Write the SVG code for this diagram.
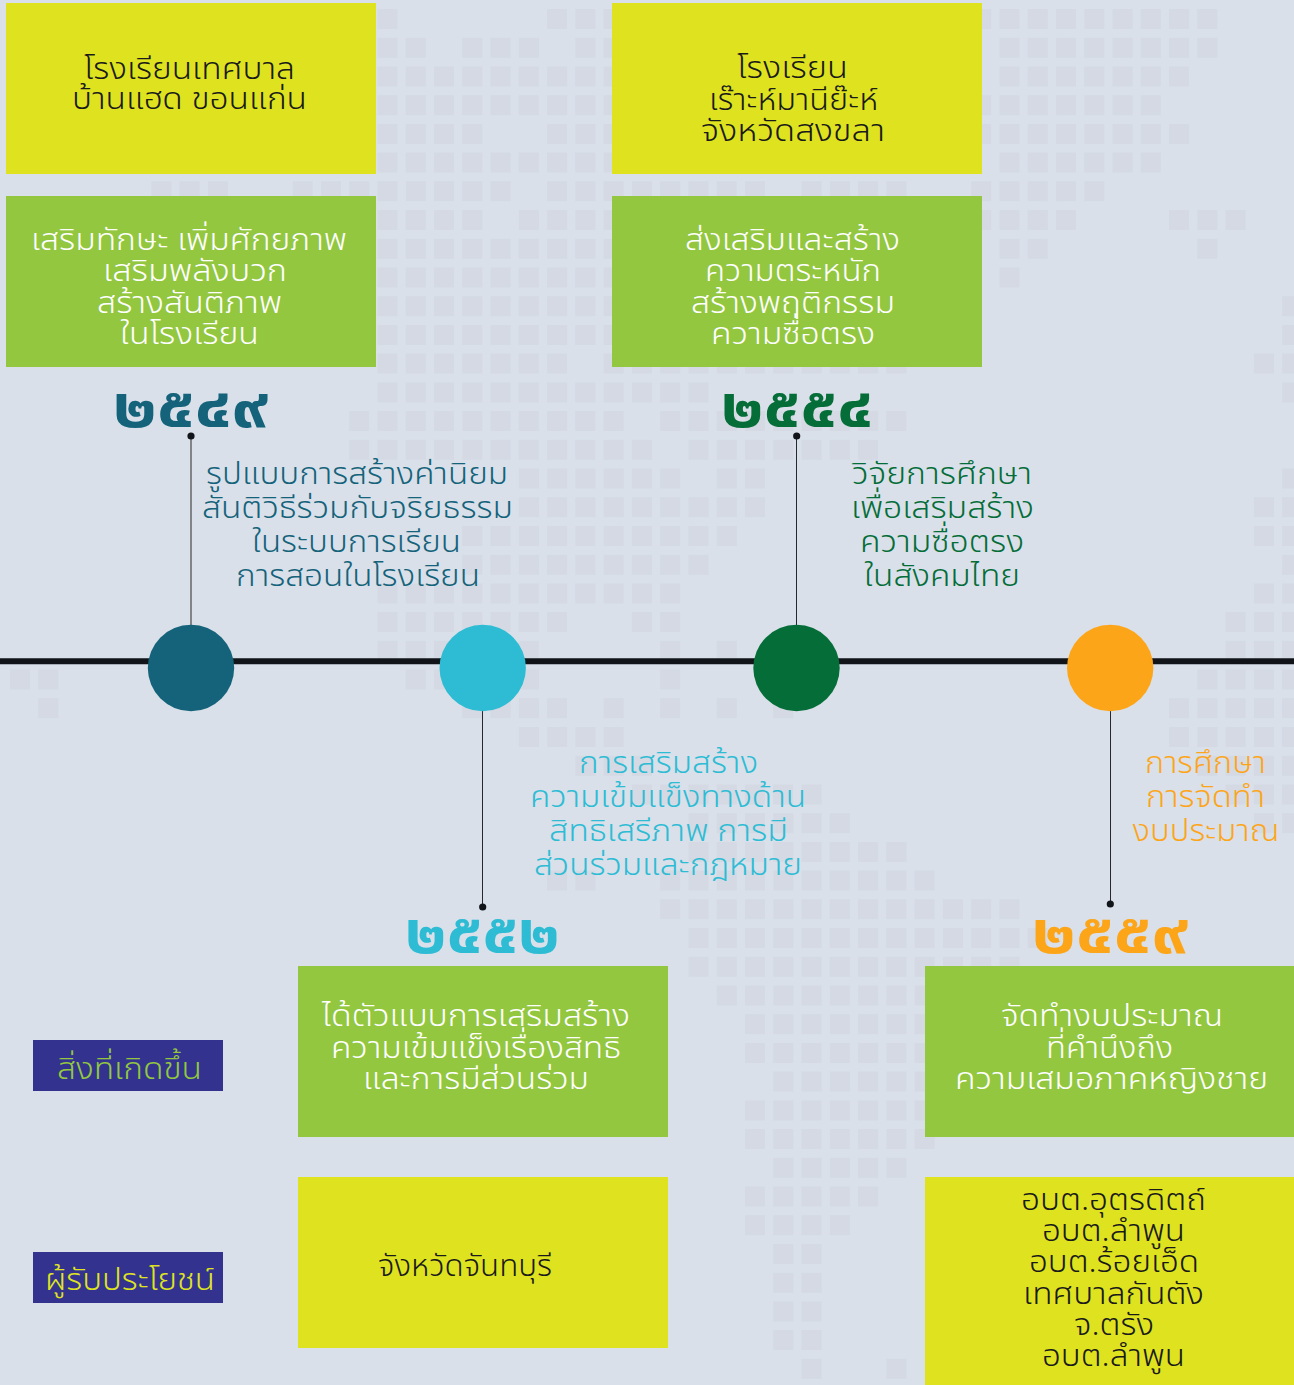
<svg xmlns="http://www.w3.org/2000/svg" width="1294" height="1385" viewBox="0 0 1294 1385">
<style>
.sq{fill:none;stroke:#d4d9e3;stroke-width:20;stroke-dasharray:20 8.27}
text{font-family:"Noto Sans Thai","Noto Sans","DejaVu Sans","Liberation Sans",sans-serif;font-size:31px;font-weight:300;text-anchor:middle}
.d{fill:#1a1a1a}.w{fill:#fff}.t{fill:#15637a}.g{fill:#056d38}.c{fill:#2ebcd4}.o{fill:#fda519}
.y{font-size:56px;font-weight:700}
.ye{fill:#dfe31f}.gr{fill:#92c73f}.bl{fill:#33338f}
.stem{stroke:#26282b;stroke-width:1;fill:none}
</style>
<rect width="1294" height="1385" fill="#d9e0ea"/>
<g id="map" class="sq">
<path d="M377.5 19H397.5M547.1 19H623.7M971.2 19H1217.3"/>
<path d="M377.5 47.7H425.8M462.3 47.7H538.9M575.4 47.7H623.7M999.5 47.7H1217.3"/>
<path d="M377.5 76.4H623.7M999.5 76.4H1189.1"/>
<path d="M377.5 105.2H623.7M971.2 105.2H1160.8"/>
<path d="M377.5 133.9H482.3M547.1 133.9H623.7M971.2 133.9H1189.1"/>
<path d="M377.5 162.6H623.7M999.5 162.6H1160.8"/>
<path d="M151.4 191.3H227.9M292.7 191.3H510.6M547.1 191.3H765M801.6 191.3H906.4M971.2 191.3H1104.3"/>
<path d="M377.5 220H482.3M518.9 220H623.7M971.2 220H1076M1169.1 220H1245.6"/>
<path d="M377.5 248.8H623.7M999.5 248.8H1047.7M1197.3 248.8H1217.3"/>
<path d="M377.5 277.5H623.7M999.5 277.5H1019.5"/>
<path d="M377.5 306.2H623.7M1282.2 306.2H1302.2"/>
<path d="M377.5 334.9H623.7M1282.2 334.9H1302.2"/>
<path d="M377.5 363.6H567.1M603.7 363.6H906.4M1253.9 363.6H1302.2"/>
<path d="M377.5 392.4H708.5M1282.2 392.4H1302.2"/>
<path d="M349.2 421.1H623.7M660.2 421.1H906.4"/>
<path d="M349.2 449.8H651.9M688.5 449.8H878.1"/>
<path d="M518.9 478.5H680.2M716.8 478.5H765M1282.2 478.5H1302.2"/>
<path d="M518.9 507.2H765M1253.9 507.2H1302.2"/>
<path d="M462.3 536H736.8M1253.9 536H1302.2"/>
<path d="M462.3 564.7H708.5M1282.2 564.7H1302.2"/>
<path d="M377.5 593.4H680.2M1253.9 593.4H1302.2"/>
<path d="M377.5 622.1H567.1M631.9 622.1H680.2M1225.6 622.1H1302.2"/>
<path d="M377.5 650.8H538.9M660.2 650.8H680.2M716.8 650.8H736.8M1225.6 650.8H1302.2"/>
<path d="M10 679.6H58.3M405.8 679.6H454.1M518.9 679.6H538.9M660.2 679.6H680.2M1197.3 679.6H1302.2"/>
<path d="M38.3 708.3H58.3M462.3 708.3H567.1M603.7 708.3H623.7M660.2 708.3H680.2M716.8 708.3H736.8M773.3 708.3H793.3M1169.1 708.3H1302.2"/>
<path d="M518.9 737H623.7M1169.1 737H1302.2"/>
<path d="M575.4 765.7H651.9M1197.3 765.7H1302.2"/>
<path d="M631.9 794.4H821.6M1225.6 794.4H1302.2"/>
<path d="M688.5 823.2H849.8M1253.9 823.2H1302.2"/>
<path d="M688.5 851.9H906.4"/>
<path d="M547.1 880.6H595.4M660.2 880.6H934.6"/>
<path d="M660.2 909.3H1019.5"/>
<path d="M688.5 938H1047.7"/>
<path d="M688.5 966.8H1019.5"/>
<path d="M716.8 995.5H934.6"/>
<path d="M745 1024.2H934.6"/>
<path d="M745 1052.9H934.6"/>
<path d="M773.3 1081.6H934.6"/>
<path d="M745 1110.4H934.6"/>
<path d="M745 1139.1H934.6"/>
<path d="M773.3 1167.8H906.4"/>
<path d="M745 1196.5H878.1"/>
<path d="M745 1225.2H849.8"/>
<path d="M773.3 1254H821.6"/>
<path d="M773.3 1282.7H821.6"/>
<path d="M773.3 1311.4H821.6"/>
<path d="M773.3 1340.1H821.6"/>
<path d="M801.6 1368.8H821.6M886.4 1368.8H906.4"/>
</g>
<g id="connectors">
<line x1="0" y1="661.300" x2="1294" y2="661.300" stroke="#111418" stroke-width="6"/>
<path class="stem" d="M796.500 436V625M482.500 711V907M1110.500 711V904"/>
<path d="M191 436V625" stroke="#666" stroke-width="1.500" fill="none"/>
<g fill="#111418"><circle cx="191" cy="436" r="3.600"/><circle cx="796.700" cy="436" r="3.600"/><circle cx="482.700" cy="907" r="3.600"/><circle cx="1110.300" cy="904" r="3.600"/></g>
</g>
<g id="box-school-1"><rect class="ye" x="6" y="3" width="370" height="171"/>
<text class="d" x="189.500" y="79" textLength="211" lengthAdjust="spacingAndGlyphs">โรงเรียนเทศบาล</text>
<text class="d" x="189.500" y="109" textLength="235" lengthAdjust="spacingAndGlyphs">บ้านแฮด ขอนแก่น</text></g>
<g id="box-result-1"><rect class="gr" x="6" y="196" width="370" height="171"/>
<text class="w" x="189" y="250" textLength="316" lengthAdjust="spacingAndGlyphs">เสริมทักษะ เพิ่มศักยภาพ</text>
<text class="w" x="195" y="281" textLength="184" lengthAdjust="spacingAndGlyphs">เสริมพลังบวก</text>
<text class="w" x="189.500" y="313" textLength="185" lengthAdjust="spacingAndGlyphs">สร้างสันติภาพ</text>
<text class="w" x="189.500" y="344" textLength="139" lengthAdjust="spacingAndGlyphs">ในโรงเรียน</text></g>
<g id="box-school-2"><rect class="ye" x="612" y="3" width="370" height="171"/>
<text class="d" x="792.500" y="78" textLength="111" lengthAdjust="spacingAndGlyphs">โรงเรียน</text>
<text class="d" x="793.500" y="110" textLength="169" lengthAdjust="spacingAndGlyphs">เร๊าะห์มานีย๊ะห์</text>
<text class="d" x="793" y="141" textLength="184" lengthAdjust="spacingAndGlyphs">จังหวัดสงขลา</text></g>
<g id="box-result-2"><rect class="gr" x="612" y="196" width="370" height="171"/>
<text class="w" x="792.500" y="250" textLength="215" lengthAdjust="spacingAndGlyphs">ส่งเสริมและสร้าง</text>
<text class="w" x="793" y="281" textLength="176" lengthAdjust="spacingAndGlyphs">ความตระหนัก</text>
<text class="w" x="793" y="313" textLength="204" lengthAdjust="spacingAndGlyphs">สร้างพฤติกรรม</text>
<text class="w" x="793" y="344" textLength="164" lengthAdjust="spacingAndGlyphs">ความซื่อตรง</text></g>
<g id="event-2549">
<text class="t y" x="191" y="427" textLength="156" lengthAdjust="spacingAndGlyphs">๒๕๔๙</text>
<circle cx="191" cy="668" r="43.200" fill="#15637a"/>
<text class="t" x="357" y="484" textLength="302" lengthAdjust="spacingAndGlyphs">รูปแบบการสร้างค่านิยม</text>
<text class="t" x="357.500" y="518" textLength="311" lengthAdjust="spacingAndGlyphs">สันติวิธีร่วมกับจริยธรรม</text>
<text class="t" x="356.500" y="552" textLength="209" lengthAdjust="spacingAndGlyphs">ในระบบการเรียน</text>
<text class="t" x="358" y="586" textLength="244" lengthAdjust="spacingAndGlyphs">การสอนในโรงเรียน</text></g>
<g id="event-2552">
<circle cx="482.700" cy="668" r="43.200" fill="#2ebcd4"/>
<text class="c" x="668.500" y="773" textLength="179" lengthAdjust="spacingAndGlyphs">การเสริมสร้าง</text>
<text class="c" x="668" y="807" textLength="276" lengthAdjust="spacingAndGlyphs">ความเข้มแข็งทางด้าน</text>
<text class="c" x="668.500" y="841" textLength="239" lengthAdjust="spacingAndGlyphs">สิทธิเสรีภาพ การมี</text>
<text class="c" x="668" y="875" textLength="268" lengthAdjust="spacingAndGlyphs">ส่วนร่วมและกฎหมาย</text>
<text class="c y" x="482.500" y="953" textLength="155" lengthAdjust="spacingAndGlyphs">๒๕๕๒</text></g>
<g id="event-2554">
<text class="g y" x="797" y="427" textLength="152" lengthAdjust="spacingAndGlyphs">๒๕๕๔</text>
<circle cx="796.500" cy="668" r="43.200" fill="#056d38"/>
<text class="g" x="942" y="484" textLength="180" lengthAdjust="spacingAndGlyphs">วิจัยการศึกษา</text>
<text class="g" x="942.500" y="518" textLength="183" lengthAdjust="spacingAndGlyphs">เพื่อเสริมสร้าง</text>
<text class="g" x="942" y="552" textLength="164" lengthAdjust="spacingAndGlyphs">ความซื่อตรง</text>
<text class="g" x="942" y="586" textLength="156" lengthAdjust="spacingAndGlyphs">ในสังคมไทย</text></g>
<g id="event-2559">
<circle cx="1110.200" cy="668" r="43.200" fill="#fda519"/>
<text class="o" x="1205.500" y="773" textLength="121" lengthAdjust="spacingAndGlyphs">การศึกษา</text>
<text class="o" x="1205.500" y="807" textLength="119" lengthAdjust="spacingAndGlyphs">การจัดทำ</text>
<text class="o" x="1206" y="841" textLength="147" lengthAdjust="spacingAndGlyphs">งบประมาณ</text>
<text class="o y" x="1110.500" y="953" textLength="157" lengthAdjust="spacingAndGlyphs">๒๕๕๙</text></g>
<g id="label-outcome"><rect class="bl" x="33" y="1040" width="190" height="51"/>
<text class="gr" x="129.500" y="1079" textLength="145" lengthAdjust="spacingAndGlyphs">สิ่งที่เกิดขึ้น</text></g>
<g id="label-beneficiary"><rect class="bl" x="33" y="1252" width="190" height="51"/>
<text class="ye" x="130" y="1290" textLength="170" lengthAdjust="spacingAndGlyphs">ผู้รับประโยชน์</text></g>
<g id="box-result-3"><rect class="gr" x="298" y="966" width="370" height="171"/>
<text class="w" x="476" y="1026" textLength="308" lengthAdjust="spacingAndGlyphs">ได้ตัวแบบการเสริมสร้าง</text>
<text class="w" x="476" y="1058" textLength="290" lengthAdjust="spacingAndGlyphs">ความเข้มแข็งเรื่องสิทธิ</text>
<text class="w" x="476" y="1089" textLength="226" lengthAdjust="spacingAndGlyphs">และการมีส่วนร่วม</text></g>
<g id="box-result-4"><rect class="gr" x="925" y="966" width="369" height="171"/>
<text class="w" x="1112" y="1026" textLength="222" lengthAdjust="spacingAndGlyphs">จัดทำงบประมาณ</text>
<text class="w" x="1109.500" y="1058" textLength="127" lengthAdjust="spacingAndGlyphs">ที่คำนึงถึง</text>
<text class="w" x="1111.500" y="1089" textLength="313" lengthAdjust="spacingAndGlyphs">ความเสมอภาคหญิงชาย</text></g>
<g id="box-beneficiary-3"><rect class="ye" x="298" y="1177" width="370" height="171"/>
<text class="d" x="465" y="1276" textLength="174" lengthAdjust="spacingAndGlyphs">จังหวัดจันทบุรี</text></g>
<g id="box-beneficiary-4"><rect class="ye" x="925" y="1177" width="369" height="208"/>
<text class="d" x="1113.500" y="1210" textLength="185" lengthAdjust="spacingAndGlyphs">อบต.อุตรดิตถ์</text>
<text class="d" x="1113.500" y="1241" textLength="143" lengthAdjust="spacingAndGlyphs">อบต.ลำพูน</text>
<text class="d" x="1114" y="1272" textLength="170" lengthAdjust="spacingAndGlyphs">อบต.ร้อยเอ็ด</text>
<text class="d" x="1113.500" y="1304" textLength="181" lengthAdjust="spacingAndGlyphs">เทศบาลกันตัง</text>
<text class="d" x="1114" y="1335" textLength="80" lengthAdjust="spacingAndGlyphs">จ.ตรัง</text>
<text class="d" x="1113.500" y="1366" textLength="143" lengthAdjust="spacingAndGlyphs">อบต.ลำพูน</text></g>
</svg>
